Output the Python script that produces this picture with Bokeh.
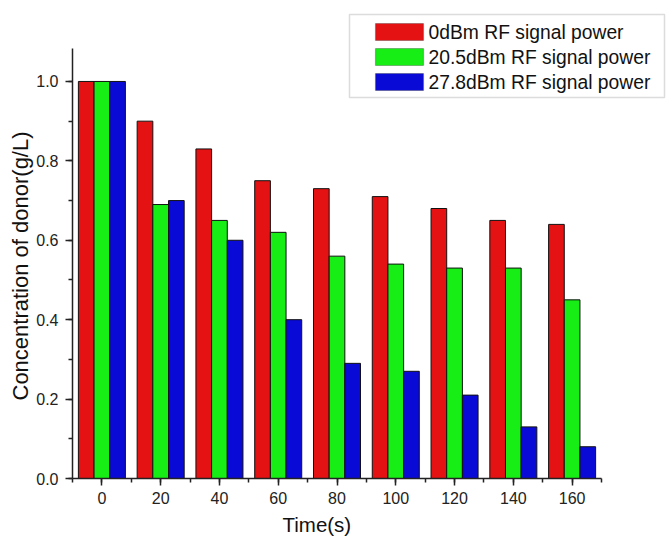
from bokeh.plotting import figure
from bokeh.models import (ColumnDataSource, Range1d, SingleIntervalTicker, BoxAnnotation, Label,
                          CustomJSTickFormatter, Title)
from bokeh.embed import file_html
from bokeh.resources import INLINE

# ---- data ----
times = [0, 20, 40, 60, 80, 100, 120, 140, 160]
power_0dbm = [1.00, 0.90, 0.83, 0.75, 0.73, 0.71, 0.68, 0.65, 0.64]
power_20_5dbm = [1.00, 0.69, 0.65, 0.62, 0.56, 0.54, 0.53, 0.53, 0.45]
power_27_8dbm = [1.00, 0.70, 0.60, 0.40, 0.29, 0.27, 0.21, 0.13, 0.08]
series_names = ["0dBm RF signal power", "20.5dBm RF signal power", "27.8dBm RF signal power"]
series_colors = ["#E41212", "#16EE16", "#0A0AD6"]
x_axis_bounds = (-10, 170)
y_axis_bounds = (0, 1.083)
x_title = "Time(s)"
y_title = "Concentration of donor(g/L)"

FONT = "Liberation Sans"
W, H = 668, 540
# axes area in px (axis extent) and the wider drawing frame (to hold the legend)
AL, AT, AR, AB = 72, 48, 601, 478
FL, FT, FR, FB = 72, 12, 666, 478
xs = (x_axis_bounds[1] - x_axis_bounds[0]) / (AR - AL)
ys = (y_axis_bounds[1] - y_axis_bounds[0]) / (AB - AT)
X0 = x_axis_bounds[0]
X1 = x_axis_bounds[1] + (FR - AR) * xs
Y0 = y_axis_bounds[0]
Y1 = y_axis_bounds[1] + (AT - FT) * ys

p = figure(width=W, height=H, output_backend="svg", toolbar_location=None,
           x_range=Range1d(X0, X1), y_range=Range1d(Y0, Y1),
           min_border_left=FL, min_border_right=W - FR,
           min_border_top=FT, min_border_bottom=H - FB)
p.outline_line_color = None
p.xgrid.visible = False
p.ygrid.visible = False
p.background_fill_color = "white"
p.border_fill_color = "white"

bw = 16 / 3.0
offsets = [-bw, 0, bw]
for vals, off, col in zip([power_0dbm, power_20_5dbm, power_27_8dbm], offsets, series_colors):
    src = ColumnDataSource(dict(x=[t + off for t in times], top=vals))
    p.vbar(x="x", top="top", bottom=0, width=bw, source=src,
           fill_color=col, line_color="#111111", line_width=1)

for ax in (p.xaxis[0], p.yaxis[0]):
    ax.axis_line_color = "#222222"
    ax.axis_line_width = 1.5
    ax.major_tick_line_color = "#222222"
    ax.minor_tick_line_color = "#222222"
    ax.major_tick_line_width = 1.5
    ax.minor_tick_line_width = 1.5
    ax.major_tick_in = 0
    ax.major_tick_out = 7
    ax.minor_tick_in = 0
    ax.minor_tick_out = 4
    ax.major_label_text_font = FONT
    ax.major_label_text_font_size = "16px"
    ax.major_label_text_color = "#222222"

p.xaxis.bounds = x_axis_bounds
p.yaxis.bounds = y_axis_bounds
p.xaxis.ticker = SingleIntervalTicker(interval=20, num_minor_ticks=2)
p.yaxis.ticker = SingleIntervalTicker(interval=0.2, num_minor_ticks=2)
p.yaxis.formatter = CustomJSTickFormatter(code="return tick.toFixed(1);")
p.xaxis.major_label_standoff = 6
p.yaxis.major_label_standoff = 7

# axis titles (positioned relative to the axis extent, not the wider frame)
xt = Title(text=x_title, align="left", text_font=FONT, text_font_size="20.5px",
           text_font_style="normal", text_color="#111111", standoff=8,
           offset=210)
p.add_layout(xt, "below")
yt = Title(text=y_title, align="left", text_font=FONT,
           text_font_size="22px", text_font_style="normal", text_color="#111111",
           standoff=2, offset=78)
p.add_layout(yt, "left")


# ---- legend drawn manually ----
def dx(fx):
    return X0 + (fx - FL) * xs


def dy(fy):
    return Y0 + (FB - fy) * ys


p.add_layout(BoxAnnotation(left=dx(349), right=dx(664), top=dy(14), bottom=dy(97),
                           fill_color="white", fill_alpha=1.0,
                           line_color="#8a8a8a", line_width=1.5))
for i, (name, col) in enumerate(zip(series_names, series_colors)):
    top = 23 + 25 * i
    p.add_layout(BoxAnnotation(left=dx(375), right=dx(423), top=dy(top), bottom=dy(top + 17),
                               fill_color=col, fill_alpha=1.0,
                               line_color="#222222", line_width=1.2))
    p.add_layout(Label(x=dx(428), y=dy(top + 8.5), text=name,
                       text_font=FONT, text_font_size="19.3px", text_color="#111111",
                       text_baseline="middle", text_align="left"))

open("out.html", "w").write(file_html(p, INLINE))
